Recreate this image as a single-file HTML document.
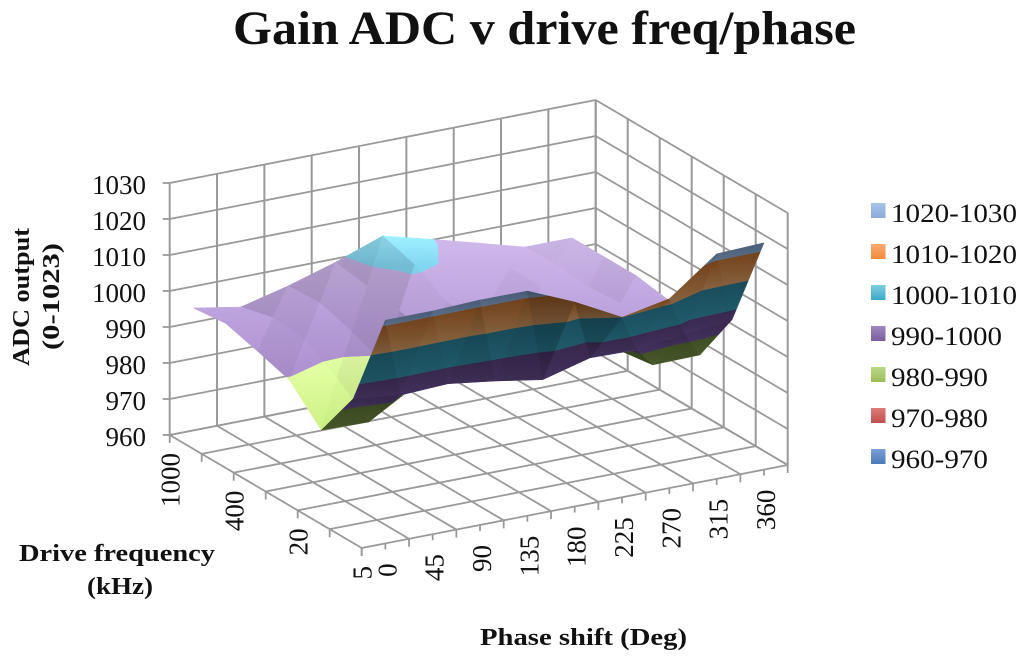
<!DOCTYPE html>
<html lang="en">
<head>
<meta charset="utf-8">
<title>Gain ADC v drive freq/phase</title>
<style>
html,body{margin:0;padding:0;background:#fff;}
svg{display:block;}
text{font-family:"Liberation Serif",serif;fill:#111;}
</style>
</head>
<body>
<svg id="chart" xmlns="http://www.w3.org/2000/svg" width="1024" height="657" viewBox="0 0 1024 657">
  <defs id="defs"></defs>
  <rect x="0" y="0" width="1024" height="657" fill="#fff"/>
  <text x="233" y="44" font-size="48" font-weight="bold" textLength="623" lengthAdjust="spacingAndGlyphs">Gain ADC v drive freq/phase</text>
  <g id="grid"></g>
  <g id="surface"></g>
  <g id="labels"></g>
  <text transform="translate(29,366) rotate(-90)" font-size="24" font-weight="bold" textLength="138" lengthAdjust="spacingAndGlyphs">ADC output</text>
  <text transform="translate(59,350) rotate(-90)" font-size="24" font-weight="bold" textLength="107" lengthAdjust="spacingAndGlyphs">(0-1023)</text>
  <text x="19" y="561" font-size="24" font-weight="bold" textLength="196" lengthAdjust="spacingAndGlyphs">Drive frequency</text>
  <text x="87" y="594" font-size="24" font-weight="bold" textLength="66" lengthAdjust="spacingAndGlyphs">(kHz)</text>
  <text x="480" y="645" font-size="24" font-weight="bold" textLength="207" lengthAdjust="spacingAndGlyphs">Phase shift (Deg)</text>
  <g id="legend"></g>
</svg>
<script>
// ---- chart data ----
const phaseLabels = ["0","45","90","135","180","225","270","315","360"];
const freqLabels = ["5","10","20","100","400","700","1000"];
const zTicks = [960,970,980,990,1000,1010,1020,1030];
const bandNames = ["960-970","970-980","980-990","990-1000","1000-1010","1010-1020","1020-1030"];
const values5 = [1022,1022,1022.5,1022.4,1016.8,1010,1012.6,1022.5,1023];
const values10 = [995,993.4,994,992.2,990,993.5,993.2,995,996.4];
const values20 = [981,980.7,988.4,992,992,993,989.5,981.2,981.4];
const values100 = [989.7,987.7,989,994,995,995,994,993,991.5];
const values400 = [992.5,993,992.7,996,996,995,995,992.4,993];
const values700 = [995,994,995.5,997.6,1001,999,995,993.3,993];
const values1000 = [994,991.7,995,999,1003.8,1000.3,996.7,993,993];

const series = [values5,values10,values20,values100,values400,values700,values1000];

// ---- styling ----
const topColors = [["#8fb4e8","#6f94cc"],["#f29a96","#d97a76"],["#dffaa2","#c6ea80"],["#c9b3e4","#a78bca"],["#9aeaff","#7fd0ea"],["#fcc08c","#f0a060"],["#c8daf5","#aac4ea"]];
const topRanges = [[400,470],[380,440],[360,430],[240,380],[236,266],[220,260],[220,250]];
const underColors = [["#1d3860","#24426e"],["#6b2523","#7a2f2c"],["#3c4a20","#46562a"],["#35264a","#40305a"],["#184a58","#1f5868"],["#70401a","#83603e"],["#475a76","#5a6c84"]];
const legendColors = [["#7aa0d8","#4a7ab8"],["#e07b78","#c04f4c"],["#bcd88a","#9cbb58"],["#9d87bd","#7a5ea0"],["#7fcde0","#3ba8c4"],["#fcaa70","#f08a3f"],["#a8c4ea","#8daad9"]];

const NS = "http://www.w3.org/2000/svg";
const gridEl = document.getElementById("grid");
const surfEl = document.getElementById("surface");
const labelEl = document.getElementById("labels");
const legendEl = document.getElementById("legend");
const defsEl = document.getElementById("defs");

// ---- axis functions ----
const uCells = phaseLabels.length;
const vCells = freqLabels.length - 1;
const zMin = zTicks[0];
const origin = {x:361.7,y:548};
const uVec = {x:426,y:-83};
const vVec = {x:-192,y:-113};
const zScale = 3.6;
function project(u,v,z){
  return {
    x: origin.x + u/uCells*uVec.x + v/vCells*vVec.x,
    y: origin.y + u/uCells*uVec.y + v/vCells*vVec.y - (z-zMin)*zScale
  };
}
function fmt(n){return n.toFixed(2);}

function line(parent,a,b,name,w){
  const l = document.createElementNS(NS,"line");
  l.setAttribute("x1",fmt(a.x));l.setAttribute("y1",fmt(a.y));
  l.setAttribute("x2",fmt(b.x));l.setAttribute("y2",fmt(b.y));
  l.setAttribute("stroke","#999999");
  l.setAttribute("stroke-width",w||1.8);
  
  
  parent.appendChild(l);
}

const zTop = zTicks[zTicks.length-1];
// horizontal grid on the two walls, z ticks
zTicks.forEach(function(t){
  line(gridEl,project(0,vCells,t),project(uCells,vCells,t),"back-wall-gridline");
  line(gridEl,project(uCells,vCells,t),project(uCells,0,t),"side-wall-gridline");
  const p = project(0,vCells,t);
  line(gridEl,{x:p.x-7,y:p.y},p,"z-axis-tick");
});
// phase grid
for(let i=0;i<=uCells;i++){
  line(gridEl,project(i,vCells,zMin),project(i,vCells,zTop),"back-wall-vertical-gridline",2);
  line(gridEl,project(i,0,zMin),project(i,vCells,zMin),"floor-gridline");
  const p = project(i,0,zMin);
  line(gridEl,p,{x:p.x,y:p.y+8},"phase-axis-tick");
  if(i<uCells){
    const m = project(i+0.5,0,zMin);
    line(gridEl,m,{x:m.x,y:m.y+6},"phase-axis-minor-tick");
  }
}
// depth grid
for(let j=0;j<=vCells;j++){
  line(gridEl,project(uCells,j,zMin),project(uCells,j,zTop),"side-wall-vertical-gridline",2);
  line(gridEl,project(0,j,zMin),project(uCells,j,zMin),"floor-gridline");
  const p = project(0,j,zMin);
  line(gridEl,p,{x:p.x,y:p.y+8},"depth-axis-tick");
}

// ---- labels ----
zTicks.forEach(function(t){
  const p = project(0,vCells,t);
  const el = document.createElementNS(NS,"text");
  el.setAttribute("x",146);
  el.setAttribute("y",fmt(p.y+11));
  el.setAttribute("font-size",27);
  el.setAttribute("text-anchor","end");
  
  
  el.textContent = String(t);
  labelEl.appendChild(el);
});
phaseLabels.forEach(function(t,i){
  const p = project(i+0.5,0,zMin);
  const el = document.createElementNS(NS,"text");
  el.setAttribute("transform","translate("+fmt(p.x+11)+","+fmt(p.y+20)+") rotate(-90)");
  el.setAttribute("font-size",27);
  el.setAttribute("text-anchor","end");
  
  
  el.textContent = t;
  labelEl.appendChild(el);
});
freqLabels.forEach(function(t,j){
  if(j%2!==0) return;
  const p = project(0,j,zMin);
  const el = document.createElementNS(NS,"text");
  el.setAttribute("transform","translate("+fmt(p.x+10)+","+fmt(p.y+18)+") rotate(-90)");
  el.setAttribute("font-size",27);
  el.setAttribute("text-anchor","end");
  
  
  el.textContent = t;
  labelEl.appendChild(el);
});

// ---- surface ----
function clipBand(poly,limit,keepAbove){
  const out = [];
  for(let k=0;k<poly.length;k++){
    const a = poly[k], b = poly[(k+1)%poly.length];
    const aIn = keepAbove ? a.z>=limit : a.z<=limit;
    const bIn = keepAbove ? b.z>=limit : b.z<=limit;
    if(aIn) out.push(a);
    if(aIn!==bIn){
      const t = (limit-a.z)/(b.z-a.z);
      out.push({u:a.u+(b.u-a.u)*t,v:a.v+(b.v-a.v)*t,z:limit});
    }
  }
  return out;
}
function hexShade(hex,s){
  const r = Math.min(255,Math.round(parseInt(hex.substr(1,2),16)*s));
  const g = Math.min(255,Math.round(parseInt(hex.substr(3,2),16)*s));
  const b = Math.min(255,Math.round(parseInt(hex.substr(5,2),16)*s));
  return "rgb("+r+","+g+","+b+")";
}
function signedArea(a,b,c){
  return (b.x-a.x)*(c.y-a.y)-(c.x-a.x)*(b.y-a.y);
}
let gradId = 0;
function drawTriangle(tri,dzdu){
  const sc = tri.map(function(q){return project(q.u,q.v,q.z);});
  const flat = tri.map(function(q){return project(q.u,q.v,zMin);});
  const under = signedArea(sc[0],sc[1],sc[2])*signedArea(flat[0],flat[1],flat[2]) < 0;
  const side = under ? -1 : 1;
  let shade = 1 - side*dzdu*0.028;
  shade = Math.max(0.84,Math.min(1.03,shade));
  for(let b=0;b<bandNames.length;b++){
    const lo = zMin+b*10, hi = lo+10;
    let poly = clipBand(tri,lo,true);
    if(poly.length) poly = clipBand(poly,hi,false);
    if(poly.length<3) continue;
    const pts = poly.map(function(q){return project(q.u,q.v,q.z);});
    let minY = Infinity, maxY = -Infinity;
    pts.forEach(function(p){minY=Math.min(minY,p.y);maxY=Math.max(maxY,p.y);});
    if(maxY-minY<0.01) continue;
    const cols = under ? underColors[b] : topColors[b];
    const y1 = under ? minY : topRanges[b][0];
    const y2 = under ? maxY : topRanges[b][1];
    const id = "g"+(gradId++);
    const lg = document.createElementNS(NS,"linearGradient");
    lg.setAttribute("id",id);
    lg.setAttribute("gradientUnits","userSpaceOnUse");
    lg.setAttribute("x1",0);lg.setAttribute("x2",0);
    lg.setAttribute("y1",fmt(y1));lg.setAttribute("y2",fmt(y2));
    const s1 = document.createElementNS(NS,"stop");
    s1.setAttribute("offset","0");s1.setAttribute("stop-color",hexShade(cols[0],shade));
    const s2 = document.createElementNS(NS,"stop");
    s2.setAttribute("offset","1");s2.setAttribute("stop-color",hexShade(cols[1],shade));
    lg.appendChild(s1);lg.appendChild(s2);
    defsEl.appendChild(lg);
    const el = document.createElementNS(NS,"polygon");
    el.setAttribute("points",pts.map(function(p){return fmt(p.x)+","+fmt(p.y);}).join(" "));
    el.setAttribute("fill","url(#"+id+")");
    el.setAttribute("stroke","url(#"+id+")");
    el.setAttribute("stroke-width","0.5");
    el.setAttribute("stroke-linejoin","round");
    
    
    surfEl.appendChild(el);
  }
}
function vert(i,j){return {u:i+0.5,v:j,z:series[j][i]};}
for(let j=series.length-2;j>=0;j--){
  for(let i=series[j].length-2;i>=0;i--){
    const a = vert(i,j), b = vert(i+1,j), c = vert(i+1,j+1), d = vert(i,j+1);
    drawTriangle([a,c,d],c.z-d.z);
    drawTriangle([a,b,c],b.z-a.z);
  }
}

// ---- legend ----
for(let b=bandNames.length-1;b>=0;b--){
  const row = bandNames.length-1-b;
  const cy = 210.5+row*41;
  const id = "lg"+b;
  const lg = document.createElementNS(NS,"linearGradient");
  lg.setAttribute("id",id);
  lg.setAttribute("x1",0);lg.setAttribute("x2",0);lg.setAttribute("y1",0);lg.setAttribute("y2",1);
  const s1 = document.createElementNS(NS,"stop");
  s1.setAttribute("offset","0");s1.setAttribute("stop-color",legendColors[b][0]);
  const s2 = document.createElementNS(NS,"stop");
  s2.setAttribute("offset","1");s2.setAttribute("stop-color",legendColors[b][1]);
  lg.appendChild(s1);lg.appendChild(s2);
  defsEl.appendChild(lg);
  const sw = document.createElementNS(NS,"rect");
  sw.setAttribute("x",871);sw.setAttribute("y",cy-7.5);
  sw.setAttribute("width",14.5);sw.setAttribute("height",15);
  sw.setAttribute("fill","url(#"+id+")");
  
  
  legendEl.appendChild(sw);
  const tx = document.createElementNS(NS,"text");
  tx.setAttribute("x",891);tx.setAttribute("y",cy+11.5);
  tx.setAttribute("font-size",26);
  tx.setAttribute("textLength",bandNames[b].length===9?126:(bandNames[b].length===8?111:97));
  tx.setAttribute("lengthAdjust","spacingAndGlyphs");
  
  
  tx.textContent = bandNames[b];
  legendEl.appendChild(tx);
}
</script>
</body>
</html>
